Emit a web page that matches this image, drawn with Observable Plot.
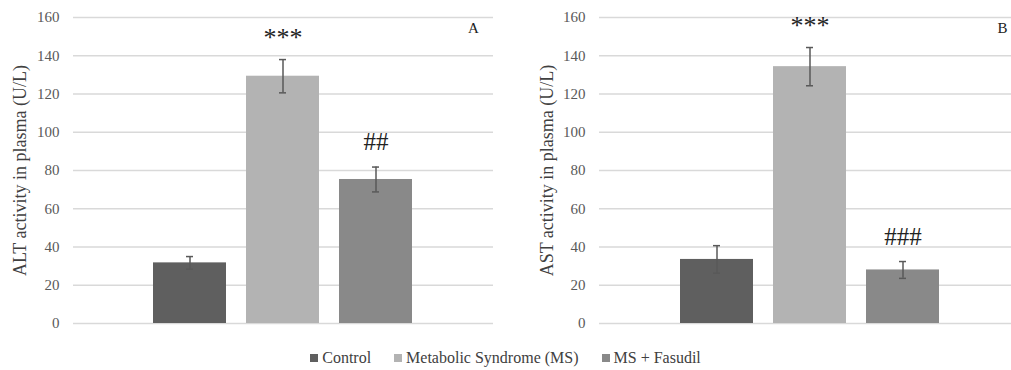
<!DOCTYPE html>
<html>
<head>
<meta charset="utf-8">
<script src="https://cdn.jsdelivr.net/npm/d3@7"></script>
<script src="https://cdn.jsdelivr.net/npm/@observablehq/plot@0.6"></script>
<style>
  html, body { margin: 0; padding: 0; background: #fff; overflow: hidden; }
  #wrap { position: relative; width: 1011px; height: 370px; overflow: hidden; font-family: "Liberation Serif", "Times New Roman", serif; }
  #panelA { position: absolute; left: 0; top: 0; width: 505px; }
  #panelB { position: absolute; left: 506px; top: 0; width: 526px; }
  #panelA svg, #panelB svg { max-width: none !important; }
  #wrap svg text { font-family: "Liberation Serif", "Times New Roman", serif !important; font-variant-numeric: normal !important; }
  #legend { position: absolute; left: 0; top: 348px; width: 1011px; display: flex; justify-content: center; gap: 23px; font-family: "Liberation Serif", serif; font-size: 16px; line-height: 20px; color: #404040; }
  #legend .item { display: flex; align-items: center; }
  #legend .sw { width: 8px; height: 8px; margin-right: 4px; display: inline-block; }
</style>
</head>
<body>
<div id="wrap">
  <div id="panelA"></div>
  <div id="panelB"></div>
  <div id="legend"></div>
</div>
<script>
const groups = ["Control", "Metabolic Syndrome (MS)", "MS + Fasudil"];
const colors = ["#5f5f5f", "#b3b3b3", "#898989"];
const yTicks = [0, 20, 40, 60, 80, 100, 120, 140, 160];

const altMean = [31.7, 129.3, 75.3];
const altErr = [3.3, 8.7, 6.5];
const altSig = ["", "***", "##"];

const astMean = [33.5, 134.3, 28.0];
const astErr = [7.2, 10.0, 4.4];
const astSig = ["", "***", "###"];

const serif = '"Liberation Serif", "Times New Roman", serif';

function panel({mean, err, sig, title, letter, width, marginLeft, marginRight, titleDx, letterDx}) {
  const rows = groups.map((g, i) => ({g, v: mean[i], lo: mean[i] - err[i], hi: mean[i] + err[i], s: sig[i]}));
  const stars = rows.filter(d => d.s.startsWith("*"));
  const hashes = rows.filter(d => d.s.startsWith("#"));
  const x0 = marginLeft, x1 = width - marginRight;
  const cx = (x0 + x1) / 2;
  const half = 140.5;
  return Plot.plot({
    width, height: 340,
    marginLeft, marginRight, marginTop: 17, marginBottom: 17,
    style: {fontFamily: serif, background: "#fff", maxWidth: "none"},
    x: {type: "band", domain: groups, range: [cx - half, cx + half], paddingInner: 0.214, paddingOuter: 0.107, axis: null},
    y: {domain: [0, 160], ticks: yTicks, label: null, tickSize: 0, tickPadding: 13},
    color: {domain: groups, range: colors},
    marks: [
      Plot.ruleY(yTicks, {stroke: "#d9d9d9", strokeWidth: 1.3}),
      Plot.axisY({ticks: yTicks, tickSize: 0, tickPadding: 14, fontSize: 15, fontFamily: serif, fill: "#595959", color: "#595959", label: null}),
      Plot.barY(rows, {x: "g", y: "v", fill: "g"}),
      Plot.ruleX(rows, {x: "g", y1: "lo", y2: "hi", stroke: "#595959", strokeWidth: 1.5}),
      Plot.tickY(rows, {x: "g", y: "lo", stroke: "#595959", strokeWidth: 1.5, insetLeft: 33, insetRight: 33}),
      Plot.tickY(rows, {x: "g", y: "hi", stroke: "#595959", strokeWidth: 1.5, insetLeft: 33, insetRight: 33}),
      Plot.text(stars, {x: "g", y: "hi", text: "s", dy: -22, fontSize: 26, fontFamily: serif, fill: "#222", lineAnchor: "middle"}),
      Plot.text(hashes, {x: "g", y: "hi", text: "s", dy: -25, fontSize: 25, fontFamily: serif, fill: "#222", lineAnchor: "middle"}),
      Plot.text([title], {frameAnchor: "left", dx: titleDx, rotate: -90, fontSize: 18, fontFamily: serif, fill: "#404040", textAnchor: "middle"}),
      Plot.text([letter], {frameAnchor: "top-right", dx: letterDx, dy: 11, fontSize: 15, fontFamily: serif, fill: "#222", textAnchor: "middle", lineAnchor: "middle"})
    ]
  });
}

document.getElementById("panelA").appendChild(panel({
  mean: altMean, err: altErr, sig: altSig,
  title: "ALT activity in plasma (U/L)", letter: "A",
  width: 505, marginLeft: 73, marginRight: 12, titleDx: -53, letterDx: -20
}));
document.getElementById("panelB").appendChild(panel({
  mean: astMean, err: astErr, sig: astSig,
  title: "AST activity in plasma (U/L)", letter: "B",
  width: 526, marginLeft: 93, marginRight: 12, titleDx: -52, letterDx: -18
}));

const legend = document.getElementById("legend");
groups.forEach((g, i) => {
  const it = document.createElement("div");
  it.className = "item";
  const sw = document.createElement("span");
  sw.className = "sw";
  sw.style.background = colors[i];
  it.appendChild(sw);
  it.appendChild(document.createTextNode(g));
  legend.appendChild(it);
});
</script>
</body>
</html>
